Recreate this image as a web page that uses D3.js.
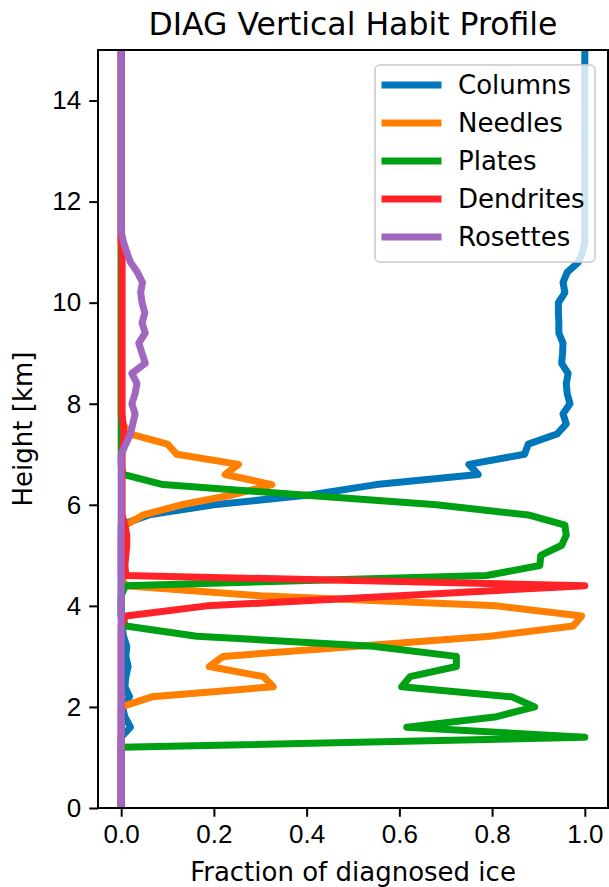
<!DOCTYPE html>
<html>
<head>
<meta charset="utf-8">
<script src="https://cdn.jsdelivr.net/npm/d3@7"></script>
<style>
  body { margin: 0; background: #fff; }
  svg { display: block; font-family: "DejaVu Sans", sans-serif; }
  .axis path, .axis line { stroke: #000; stroke-width: 2; }
  .axis text { font-size: 26px; fill: #000; }
</style>
</head>
<body>
<svg width="609" height="887"></svg>
<script>
// model levels [km]
var heights = [0.0, 0.2, 0.4, 0.6, 0.8, 1.0, 1.2, 1.4, 1.6, 1.8,
  2.0, 2.2, 2.4, 2.6, 2.8, 3.0, 3.2, 3.4, 3.6, 3.8,
  4.0, 4.2, 4.4, 4.6, 4.8, 5.0, 5.2, 5.4, 5.6, 5.8,
  6.0, 6.2, 6.4, 6.6, 6.8, 7.0, 7.2, 7.4, 7.6, 7.8,
  8.0, 8.2, 8.4, 8.6, 8.8, 9.0, 9.2, 9.4, 9.6, 9.8,
  10.0, 10.2, 10.4, 10.6, 10.8, 11.0, 11.2, 11.4, 11.6, 11.8,
  12.0, 12.2, 12.4, 12.6, 12.8, 13.0, 13.2, 13.4, 13.6, 13.8,
  14.0, 14.2, 14.4, 14.6, 14.8, 15.0];

var columns = [0, 0, 0, 0, 0, 0, 0, 0, 0.02, 0.008,
  0.003, 0.018, 0.008, 0.01, 0.015, 0.01, 0.012, 0.005, 0.002, 0,
  0, 0, 0, 0, 0, 0, 0, 0, 0, 0.06,
  0.2, 0.41, 0.55, 0.77, 0.75, 0.87, 0.878, 0.94, 0.96, 0.953,
  0.968, 0.962, 0.96, 0.964, 0.95, 0.952, 0.953, 0.944, 0.944, 0.943,
  0.943, 0.957, 0.953, 0.962, 0.986, 0.995, 1, 1, 1, 1,
  1, 1, 1, 1, 1, 1, 1, 1, 1, 1,
  1, 1, 1, 1, 1, 1];

var needles = [0, 0, 0, 0, 0, 0, 0, 0, 0, 0,
  0, 0.066, 0.328, 0.307, 0.19, 0.22, 0.51, 0.795, 0.975, 0.993,
  0.81, 0.30, 0.009, 0, 0, 0, 0, 0, 0.01, 0.048,
  0.13, 0.242, 0.325, 0.224, 0.253, 0.12, 0.1, 0.02, 0.003, 0,
  0, 0, 0, 0, 0, 0, 0, 0, 0, 0,
  0, 0, 0, 0, 0, 0, 0, 0, 0, 0,
  0, 0, 0, 0, 0, 0, 0, 0, 0, 0,
  0, 0, 0, 0, 0, 0];

var plates = [0, 0, 0, 0, 0, 0, 0, 1.0, 0.616, 0.806,
  0.892, 0.843, 0.605, 0.623, 0.723, 0.723, 0.543, 0.163, 0.01, 0,
  0, 0, 0.009, 0.788, 0.903, 0.905, 0.95, 0.96, 0.957, 0.878,
  0.68, 0.385, 0.09, 0.004, 0, 0, 0, 0, 0, 0,
  0, 0, 0, 0, 0, 0, 0, 0, 0, 0,
  0, 0, 0, 0, 0, 0, 0, 0, 0, 0,
  0, 0, 0, 0, 0, 0, 0, 0, 0, 0,
  0, 0, 0, 0, 0, 0];

var dendrites = [0, 0, 0, 0, 0, 0, 0, 0, 0, 0,
  0, 0, 0, 0, 0, 0, 0, 0, 0, 0.01,
  0.185, 0.6, 1.0, 0.01, 0.008, 0.01, 0.012, 0.012, 0.008, 0.002,
  0.002, 0.002, 0.002, 0.002, 0.002, 0.002, 0.004, 0.006, 0.004, 0.002,
  0.002, 0.002, 0.002, 0.002, 0.002, 0.002, 0.002, 0.002, 0.002, 0.002,
  0.002, 0.002, 0.002, 0.002, 0.002, 0.002, 0, 0, 0, 0,
  0, 0, 0, 0, 0, 0, 0, 0, 0, 0,
  0, 0, 0, 0, 0, 0];

var rosettes = [0, 0, 0, 0, 0, 0, 0, 0, 0, 0,
  0, 0, 0, 0, 0, 0, 0, 0, 0, 0,
  0, 0, 0, 0, 0, 0, 0, 0, 0, 0,
  0, 0, 0, 0, 0, 0, 0.01, 0.02, 0.025, 0.03,
  0.023, 0.03, 0.034, 0.023, 0.052, 0.045, 0.038, 0.052, 0.045, 0.051,
  0.045, 0.042, 0.046, 0.035, 0.02, 0.012, 0.005, 0, 0, 0,
  0, 0, 0, 0, 0, 0, 0, 0, 0, 0,
  0, 0, 0, 0, 0, 0];

var names = ["Columns", "Needles", "Plates", "Dendrites", "Rosettes"];
var colors = ["#0077bb", "#ff7f00", "#00a014", "#ff2228", "#a066c0"];
var xTicks = [0, 0.2, 0.4, 0.6, 0.8, 1.0];
var yTicks = [0, 2, 4, 6, 8, 10, 12, 14];

var svg = d3.select("svg"),
    margin = {top: 50, right: 1, bottom: 79, left: 98},
    width = +svg.attr("width") - margin.left - margin.right,
    height = +svg.attr("height") - margin.top - margin.bottom,
    g = svg.append("g").attr("transform", "translate(" + margin.left + "," + margin.top + ")");

var x = d3.scaleLinear().domain([-0.05, 1.05]).range([0, width]),
    y = d3.scaleLinear().domain([0, 15]).range([height, 0]);

var series = [columns, needles, plates, dendrites, rosettes].map(function(vals, i) {
    return {
        id: names[i],
        color: colors[i],
        values: vals.map(function(v, j) { return {h: heights[j], v: v}; })
    };
});

g.append("clipPath").attr("id", "clip")
  .append("rect").attr("width", width).attr("height", height);

var line = d3.line()
    .x(function(d) { return x(d.v); })
    .y(function(d) { return y(d.h); });

g.append("g").attr("clip-path", "url(#clip)")
  .selectAll("path")
  .data(series)
  .enter().append("path")
    .attr("d", function(d) { return line(d.values); })
    .attr("fill", "none")
    .attr("stroke", function(d) { return d.color; })
    .attr("stroke-width", 7)
    .attr("stroke-linejoin", "round")
    .attr("stroke-linecap", "square");

// axes
g.append("g")
    .attr("class", "axis")
    .attr("transform", "translate(0," + height + ")")
    .call(d3.axisBottom(x).tickValues(xTicks).tickFormat(d3.format(".1f")).tickSizeOuter(0).tickSize(8.75).tickPadding(8))
    .call(function(a) { a.select(".domain").remove(); });

g.append("g")
    .attr("class", "axis")
    .call(d3.axisLeft(y).tickValues(yTicks).tickSizeOuter(0).tickSize(8.75).tickPadding(8))
    .call(function(a) { a.select(".domain").remove(); });

// frame
g.append("rect")
    .attr("width", width)
    .attr("height", height)
    .attr("fill", "none")
    .attr("stroke", "#000")
    .attr("stroke-width", 2);

// legend
var lg = g.append("g").attr("transform", "translate(" + (375 - margin.left) + "," + (65 - margin.top) + ")");
lg.append("rect")
    .attr("width", 220)
    .attr("height", 197)
    .attr("rx", 5)
    .attr("fill", "#fff")
    .attr("fill-opacity", 0.8)
    .attr("stroke", "#cccccc")
    .attr("stroke-opacity", 0.8)
    .attr("stroke-width", 2);

var item = lg.selectAll(".item")
    .data(series)
    .enter().append("g")
    .attr("class", "item")
    .attr("transform", function(d, i) { return "translate(0," + (20 + i * 38) + ")"; });

item.append("line")
    .attr("x1", 10).attr("x2", 63)
    .attr("stroke", function(d) { return d.color; })
    .attr("stroke-width", 7)
    .attr("stroke-linecap", "square");

item.append("text")
    .attr("x", 83)
    .attr("dy", "0.35em")
    .style("font-size", "26px")
    .text(function(d) { return d.id; });

// titles
svg.append("text")
    .attr("x", margin.left + width / 2)
    .attr("y", 35)
    .attr("text-anchor", "middle")
    .style("font-size", "31.5px")
    .text("DIAG Vertical Habit Profile");

svg.append("text")
    .attr("x", margin.left + width / 2)
    .attr("y", 881)
    .attr("text-anchor", "middle")
    .style("font-size", "26px")
    .text("Fraction of diagnosed ice");

svg.append("text")
    .attr("transform", "translate(32," + (margin.top + height / 2) + ") rotate(-90)")
    .attr("text-anchor", "middle")
    .style("font-size", "26px")
    .text("Height [km]");
</script>
</body>
</html>
